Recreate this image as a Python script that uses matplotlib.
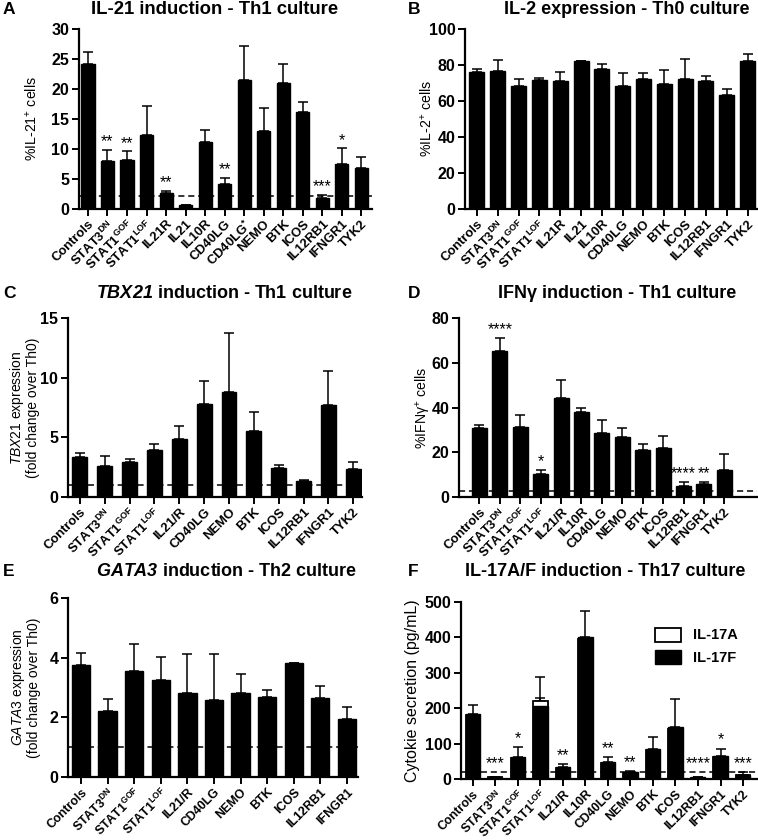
import numpy as np
import matplotlib
matplotlib.use("Agg")
import matplotlib.pyplot as plt
from matplotlib.patches import Patch

plt.rcParams["font.family"] = ["Liberation Sans", "DejaVu Sans"]
plt.rcParams["mathtext.fontset"] = "custom"
plt.rcParams["mathtext.rm"] = "Liberation Sans"
plt.rcParams["mathtext.bf"] = "Liberation Sans:bold"
plt.rcParams["mathtext.it"] = "Liberation Sans:italic"
plt.rcParams["mathtext.bfit"] = "Liberation Sans:italic:bold"

W, H = 758, 840

STAT3 = r"STAT3$^{\mathbf{DN}}$"
GOF = r"STAT1$^{\mathbf{GOF}}$"
LOF = r"STAT1$^{\mathbf{LOF}}$"

# panel A
cats_a = ["Controls", STAT3, GOF, LOF, "IL21R", "IL21", "IL10R", "CD40LG",
          r"CD40LG$^{\mathbf{*}}$", "NEMO", "BTK", "ICOS", "IL12RB1", "IFNGR1", "TYK2"]
vals_a = [24.1, 8.0, 8.2, 12.3, 2.6, 0.7, 11.1, 4.1, 21.5, 13.0, 21.0, 16.1, 1.9, 7.5, 6.9]
errs_a = [2.0, 1.9, 1.4, 4.9, 0.4, 0.0, 2.0, 1.1, 5.6, 3.9, 3.2, 1.8, 0.4, 2.6, 1.7]
stars_a = ["", "**", "**", "", "**", "", "", "**", "", "", "", "", "***", "*", ""]

# panel B
cats_b = ["Controls", STAT3, GOF, LOF, "IL21R", "IL21", "IL10R", "CD40LG",
          "NEMO", "BTK", "ICOS", "IL12RB1", "IFNGR1", "TYK2"]
vals_b = [75.9, 76.9, 68.1, 71.9, 71.1, 82.2, 77.8, 68.5, 72.0, 69.6, 72.2, 71.3, 63.5, 82.4]
errs_b = [2.1, 5.7, 4.3, 1.1, 4.8, 0.0, 2.6, 6.9, 3.4, 7.8, 11.3, 2.4, 3.2, 3.9]

# panel C
cats_c = ["Controls", STAT3, GOF, LOF, "IL21/R", "CD40LG", "NEMO", "BTK",
          "ICOS", "IL12RB1", "IFNGR1", "TYK2"]
vals_c = [3.34, 2.56, 2.9, 3.9, 4.85, 7.8, 8.77, 5.57, 2.42, 1.31, 7.72, 2.34]
errs_c = [0.34, 0.89, 0.28, 0.58, 1.11, 1.92, 4.99, 1.56, 0.28, 0.14, 2.86, 0.58]

# panel D
cats_d = ["Controls", STAT3, GOF, LOF, "IL21/R", "IL10R", "CD40LG", "NEMO",
          "BTK", "ICOS", "IL12RB1", "IFNGR1", "TYK2"]
vals_d = [30.9, 65.1, 31.5, 10.4, 44.2, 37.8, 28.5, 27.0, 21.1, 22.1, 4.7, 5.9, 11.9]
errs_d = [1.5, 6.0, 5.2, 1.5, 7.9, 2.1, 5.8, 4.0, 2.6, 5.3, 2.0, 0.9, 7.4]
stars_d = ["", "****", "", "*", "", "", "", "", "", "", "****", "**", ""]

# panel E
cats_e = ["Controls", STAT3, GOF, LOF, "IL21/R", "CD40LG", "NEMO", "BTK",
          "ICOS", "IL12RB1", "IFNGR1"]
vals_e = [3.74, 2.2, 3.55, 3.24, 2.8, 2.57, 2.83, 2.69, 3.81, 2.64, 1.95]
errs_e = [0.42, 0.42, 0.9, 0.79, 1.32, 1.55, 0.63, 0.24, 0.0, 0.4, 0.41]

# panel F
cats_f = ["Controls", STAT3, GOF, LOF, "IL21/R", "IL10R", "CD40LG", "NEMO",
          "BTK", "ICOS", "IL12RB1", "IFNGR1", "TYK2"]
il17a_vals = [180, 5, 60, 221, 30, 395, 46, 18, 82, 142, 4, 62, 11]
il17a_errs = [0, 0, 0, 68, 0, 0, 0, 0, 0, 0, 0, 0, 0]
il17f_vals = [183, 5, 63, 207, 33, 401, 49, 19, 85, 146, 5, 65, 12]
il17f_errs = [25, 0, 28, 22, 8, 74, 12, 3, 33, 80, 0, 21, 8]
stars_f = ["", "***", "*", "", "**", "", "**", "**", "", "", "****", "*", "***"]


def make_ax(left, right, top, bottom):
    return fig.add_axes([left / W, 1 - bottom / H, (right - left) / W, (bottom - top) / H])


def style(ax, cats, ylim, yticks, xlim, ylabel, label_x, left, lsize=10.2, xsize=9.4):
    ax.set_ylim(*ylim)
    ax.set_yticks(yticks)
    ax.set_xlim(*xlim)
    ax.set_xticks(np.arange(len(cats)))
    ax.set_xticklabels(cats, rotation=45, ha="right", rotation_mode="anchor",
                       fontsize=xsize, fontweight="bold")
    for t in ax.get_yticklabels():
        t.set_fontweight("bold")
        t.set_fontsize(11.5)
    for s in ["top", "right"]:
        ax.spines[s].set_visible(False)
    for s in ["left", "bottom"]:
        ax.spines[s].set_linewidth(1.6)
    ax.tick_params(axis="both", direction="out", width=1.4, length=5, pad=2)
    ax.tick_params(axis="x", pad=1.5)
    ax.set_ylabel(ylabel, fontsize=lsize, va="center", linespacing=1.05)
    pos = ax.get_position()
    ax.yaxis.set_label_coords((label_x - left) / (pos.width * W), 0.5)


def bars(ax, vals, errs, width, dash=None, stars=None, star_gap=0.0):
    x = np.arange(len(vals))
    ax.bar(x, vals, width=width, color="black", edgecolor="black", zorder=2)
    ax.errorbar(x, vals, yerr=[np.zeros(len(vals)), errs], fmt="none",
                ecolor="black", elinewidth=1.1, capsize=3.5, capthick=1.1, zorder=1)
    if dash is not None:
        ax.axhline(dash, color="black", lw=1.1, ls=(0, (4, 2.5)), zorder=3)
    if stars:
        for i, s in enumerate(stars):
            if s:
                ax.text(x[i], vals[i] + errs[i] + star_gap, s, ha="center",
                        va="bottom", fontsize=11.5)


fig = plt.figure(figsize=(W / 100, H / 100), dpi=100)


def fig_text(x, y, s, **kw):
    fig.text(x / W, 1 - y / H, s, va="center", **kw)


# A
ax = make_ax(79, 372, 29, 209)
bars(ax, vals_a, errs_a, 0.67, dash=2.2, stars=stars_a, star_gap=0.1)
style(ax, cats_a, (0, 30), [0, 5, 10, 15, 20, 25, 30], (-0.46, 14.55),
      r"%IL-21$^{+}$ cells", 32, 79)
fig_text(3, 10, "A", fontsize=12.5, fontweight="bold")
fig_text(215, 10, "IL-21 induction - Th1 culture", fontsize=13.3, fontweight="bold", ha="center")

# B
ax = make_ax(465, 757, 29, 209)
bars(ax, vals_b, errs_b, 0.72)
style(ax, cats_b, (0, 100), [0, 20, 40, 60, 80, 100], (-0.57, 13.45),
      r"%IL-2$^{+}$ cells", 427, 465)
fig_text(408, 10, "B", fontsize=12.5, fontweight="bold")
fig_text(627, 10, "IL-2 expression - Th0 culture", fontsize=13, fontweight="bold", ha="center")

# C
ax = make_ax(68, 362, 318, 497)
bars(ax, vals_c, errs_c, 0.6, dash=1.0)
style(ax, cats_c, (0, 15), [0, 5, 10, 15], (-0.48, 11.35),
      "$\\mathit{TBX21}$ expression\n(fold change over Th0)", 24, 68, lsize=10)
fig_text(3, 293, "C", fontsize=12.5, fontweight="bold")
fig_text(224, 293, r"$\mathbfit{TBX21}$ induction - Th1 culture", fontsize=13,
         fontweight="bold", ha="center")

# D
ax = make_ax(459, 757, 318, 497)
bars(ax, vals_d, errs_d, 0.73, dash=2.5, stars=stars_d, star_gap=0.5)
style(ax, cats_d, (0, 80), [0, 20, 40, 60, 80], (-1.0, 13.6),
      r"%IFNγ$^{+}$ cells", 423, 459)
fig_text(408, 293, "D", fontsize=12.5, fontweight="bold")
fig_text(617, 293, "IFNγ induction - Th1 culture", fontsize=13, fontweight="bold", ha="center")

# E
ax = make_ax(68, 358, 598, 777)
bars(ax, vals_e, errs_e, 0.69, dash=1.0)
style(ax, cats_e, (0, 6), [0, 2, 4, 6], (-0.49, 10.42),
      "$\\mathit{GATA3}$ expression\n(fold change over Th0)", 25, 68, lsize=10, xsize=8.9)
fig_text(3, 572, "E", fontsize=12.5, fontweight="bold")
fig_text(227, 572, r"$\mathbfit{GATA3}$ induction - Th2 culture", fontsize=13,
         fontweight="bold", ha="center")

# F
ax = make_ax(461, 757, 602, 779)
x = np.arange(len(cats_f))
ax.bar(x, il17a_vals, width=0.64, color="white", edgecolor="black", lw=1.3, zorder=2)
ax.errorbar(x, il17a_vals, yerr=[np.zeros(len(x)), il17a_errs], fmt="none",
            ecolor="black", elinewidth=1.1, capsize=3.5, capthick=1.1, zorder=1)
ax.bar(x, il17f_vals, width=0.64, color="black", edgecolor="black", zorder=3)
ax.errorbar(x, il17f_vals, yerr=[np.zeros(len(x)), il17f_errs], fmt="none",
            ecolor="black", elinewidth=1.1, capsize=3.5, capthick=1.1, zorder=1)
ax.axhline(20, color="black", lw=1.1, ls=(0, (4, 2.5)), zorder=4)
for i, s in enumerate(stars_f):
    if s:
        top = max(il17a_vals[i] + il17a_errs[i], il17f_vals[i] + il17f_errs[i], 20)
        ax.text(x[i], top + 3, s, ha="center", va="bottom", fontsize=11.5)
style(ax, cats_f, (0, 500), [0, 100, 200, 300, 400, 500], (-0.52, 12.62),
      "Cytokie secretion (pg/mL)", 412, 461, lsize=11.5, xsize=8.9)
ax.legend(handles=[Patch(facecolor="white", edgecolor="black", lw=1.3, label="IL-17A"),
                   Patch(facecolor="black", edgecolor="black", label="IL-17F")],
          loc="upper right", bbox_to_anchor=(0.98, 0.93), frameon=False,
          prop={"weight": "bold", "size": 10.5}, handlelength=1.8, handleheight=1.1)
fig_text(408, 572, "F", fontsize=12.5, fontweight="bold")
fig_text(605, 572, "IL-17A/F induction - Th17 culture", fontsize=13, fontweight="bold", ha="center")

fig.savefig("out.png", dpi=100)
